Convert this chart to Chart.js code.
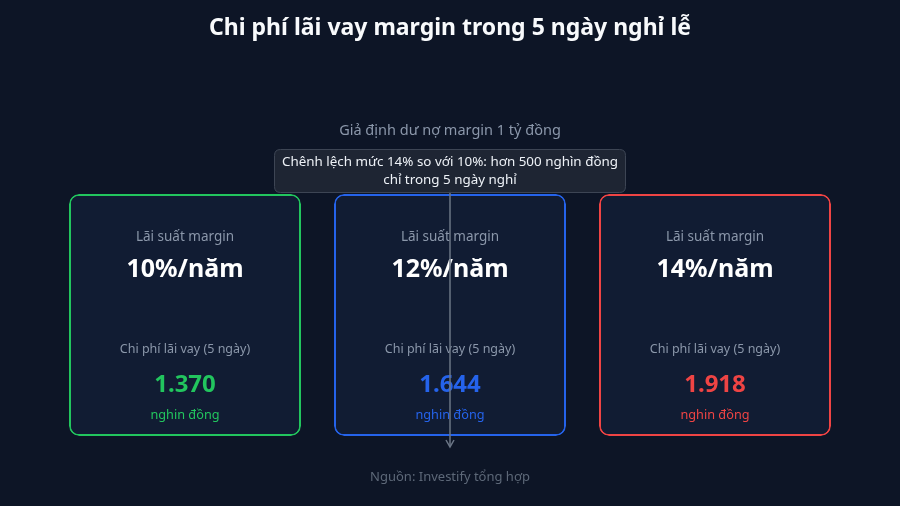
<!DOCTYPE html>
<html>
<head>
<meta charset="utf-8">
<script src="https://cdn.jsdelivr.net/npm/chart.js@4/dist/chart.umd.min.js"></script>
<style>
  html, body { margin: 0; padding: 0; background: #0d1526; }
  #wrap { width: 900px; height: 506px; }
</style>
</head>
<body>
<div id="wrap"><canvas id="chartMargin"></canvas></div>
<script>
// Data
var rateLabels = ['10%/năm', '12%/năm', '14%/năm'];
var costValues = [1370, 1644, 1918];   // nghìn đồng, 5 ngày
var cardColors = ['#22c55e', '#2563eb', '#ef4444'];

var titleText = 'Chi phí lãi vay margin trong 5 ngày nghỉ lễ';
var subtitleText = 'Giả định dư nợ margin 1 tỷ đồng';
var noteLines = ['Chênh lệch mức 14% so với 10%: hơn 500 nghìn đồng', 'chỉ trong 5 ngày nghỉ'];
var sourceText = 'Nguồn: Investify tổng hợp';
var rateCaption = 'Lãi suất margin';
var costCaption = 'Chi phí lãi vay (5 ngày)';
var unitText = 'nghin đồng';

var FONT = "'Noto Sans', 'Open Sans', sans-serif";

// Format number with dot thousands separator
function fmtVN(v) {
  return v.toString().replace(/\B(?=(\d{3})+(?!\d))/g, '.');
}

function roundRect(ctx, x, y, w, h, r) {
  ctx.beginPath();
  ctx.moveTo(x + r, y);
  ctx.lineTo(x + w - r, y);
  ctx.quadraticCurveTo(x + w, y, x + w, y + r);
  ctx.lineTo(x + w, y + h - r);
  ctx.quadraticCurveTo(x + w, y + h, x + w - r, y + h);
  ctx.lineTo(x + r, y + h);
  ctx.quadraticCurveTo(x, y + h, x, y + h - r);
  ctx.lineTo(x, y + r);
  ctx.quadraticCurveTo(x, y, x + r, y);
  ctx.closePath();
}

// Plugin that writes all the text on top of the cards
var cardText = {
  id: 'cardText',
  beforeDraw: function (chart) {
    var ctx = chart.ctx;
    ctx.save();
    ctx.fillStyle = '#0d1526';
    ctx.fillRect(0, 0, chart.width, chart.height);
    ctx.restore();
  },
  afterDraw: function (chart) {
    var ctx = chart.ctx;
    var xs = chart.scales.x;
    var area = chart.chartArea;
    var top = area.top;
    ctx.save();
    ctx.textAlign = 'center';
    ctx.textBaseline = 'middle';

    // title + subtitle
    ctx.fillStyle = '#f8fafc';
    ctx.font = 'bold 23px ' + FONT;
    ctx.fillText(titleText, chart.width / 2, 28);
    ctx.fillStyle = '#8b97aa';
    ctx.font = '14.5px ' + FONT;
    ctx.fillText(subtitleText, chart.width / 2, 131);

    // card texts
    costValues.forEach(function (v, i) {
      var cx = xs.getPixelForValue(i);
      ctx.fillStyle = '#8b97aa';
      ctx.font = '13.5px ' + FONT;
      ctx.fillText(rateCaption, cx, top + 43);
      ctx.fillStyle = '#ffffff';
      ctx.font = 'bold 25px ' + FONT;
      ctx.fillText(rateLabels[i], cx, top + 76);
      ctx.fillStyle = '#8b97aa';
      ctx.font = '12.5px ' + FONT;
      ctx.fillText(costCaption, cx, top + 155);
      ctx.fillStyle = cardColors[i];
      ctx.font = 'bold 24px ' + FONT;
      ctx.fillText(fmtVN(v), cx, top + 191);
      ctx.font = '12.7px ' + FONT;
      ctx.fillText(unitText, cx, top + 221);
    });

    // arrow from the note to the bottom
    var mx = chart.width / 2;
    ctx.strokeStyle = '#6b7686';
    ctx.lineWidth = 1.5;
    ctx.beginPath();
    ctx.moveTo(mx, 190);
    ctx.lineTo(mx, 446);
    ctx.stroke();
    ctx.beginPath();
    ctx.moveTo(mx - 4, 440);
    ctx.lineTo(mx, 447);
    ctx.lineTo(mx + 4, 440);
    ctx.stroke();

    // note box
    roundRect(ctx, 274.5, 149.5, 351, 43, 6);
    ctx.fillStyle = 'rgba(32, 39, 52, 0.92)';
    ctx.fill();
    ctx.strokeStyle = '#3d4554';
    ctx.lineWidth = 1;
    ctx.stroke();
    ctx.fillStyle = '#eef2f7';
    ctx.font = '13.4px ' + FONT;
    ctx.fillText(noteLines[0], mx, 162);
    ctx.fillText(noteLines[1], mx, 180);

    // source
    ctx.fillStyle = '#5d6878';
    ctx.font = '13px ' + FONT;
    ctx.fillText(sourceText, mx, 477);
    ctx.restore();
  }
};

document.addEventListener('DOMContentLoaded', function () {
  var ctx = document.getElementById('chartMargin');

  // each card is a floating bar spanning the full (hidden) y range
  var chart = new Chart(ctx, {
    type: 'bar',
    data: {
      labels: rateLabels,
      datasets: [{
        data: costValues.map(function () { return [0, 1]; }),
        backgroundColor: '#111c33',
        borderColor: cardColors,
        borderWidth: 2,
        borderRadius: 10,
        borderSkipped: false,
        barPercentage: 1,
        categoryPercentage: 232 / 265
      }]
    },
    options: {
      responsive: true,
      maintainAspectRatio: false,
      animation: false,
      layout: { padding: { left: 52.5, right: 52.5, top: 194, bottom: 70 } },
      scales: {
        x: { display: false },
        y: { display: false, min: 0, max: 1 }
      },
      plugins: {
        legend: { display: false },
        tooltip: { enabled: false }
      }
    },
    plugins: [cardText]
  });
});
</script>
</body>
</html>
